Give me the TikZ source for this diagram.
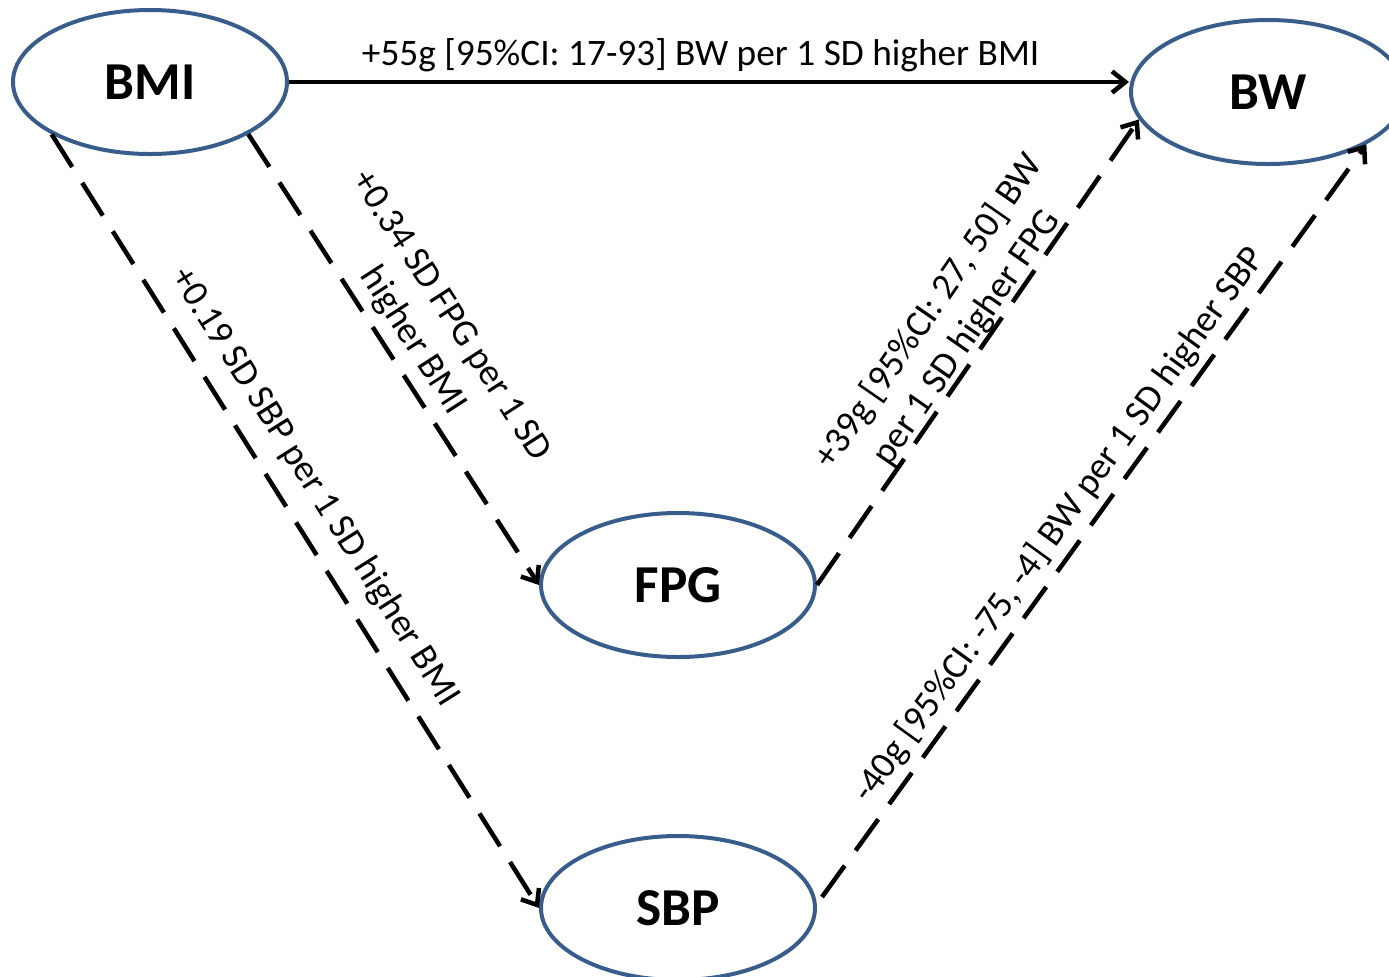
\documentclass[tikz,border=0pt]{standalone}
\usepackage{fontspec}
\setmainfont{Carlito}
\usetikzlibrary{arrows.meta,calc,shapes.geometric}
\definecolor{ellblue}{RGB}{56,93,138}
\tikzset{
 var/.style={ellipse, draw=ellblue, line width=3pt, minimum width=205.5pt, minimum height=108pt, inner sep=0pt, font=\fontsize{40}{48}\selectfont\bfseries},
 link/.style={line width=3.4pt, -{Straight Barb[length=10pt,width=16pt]}},
 dlink/.style={link, dash pattern=on 29pt off 14pt},
 lab/.style={font=\fontsize{28}{34}\selectfont, inner sep=0pt, align=center, sloped}
}
\begin{document}
\begin{tikzpicture}[x=0.75pt,y=-0.75pt]
\useasboundingbox (0,0) rectangle (1389,976);
\clip (0,0) rectangle (1389,976);
\node[var] (bmi) at (150,82) {BMI};
\node[var] (bw) at (1268,92) {BW};
\node[var] (fpg) at (678,585) {FPG};
\node[var] (sbp) at (678,908) {SBP};
\coordinate (sbpout) at ($(sbp.east)+(5,-11)$);
\draw[link] (bmi.east) -- (bmi.east -| bw.west) node[lab, pos=0.49, above=6pt]{+55g [95\%CI: 17-93] BW per 1 SD higher BMI};
\draw[dlink] (bmi.-28) -- (fpg.west) node[lab, pos=0.49, above=6pt]{+0.34 SD FPG per 1 SD\\higher BMI};
\draw[dlink] (bmi.-152) -- (sbp.west) node[lab, pos=0.48, above=12pt]{+0.19 SD SBP per 1 SD higher BMI};
\draw[dlink] (fpg.east) -- (bw.-168) node[lab, pos=0.51, above=-1pt]{+39g [95\%CI: 27, 50] BW\\per 1 SD higher FPG};
\draw[dlink] (sbpout) -- (bw.-28) node[lab, pos=0.474, above=5pt]{-40g [95\%CI: -75, -4] BW per 1 SD higher SBP};
\end{tikzpicture}
\end{document}
